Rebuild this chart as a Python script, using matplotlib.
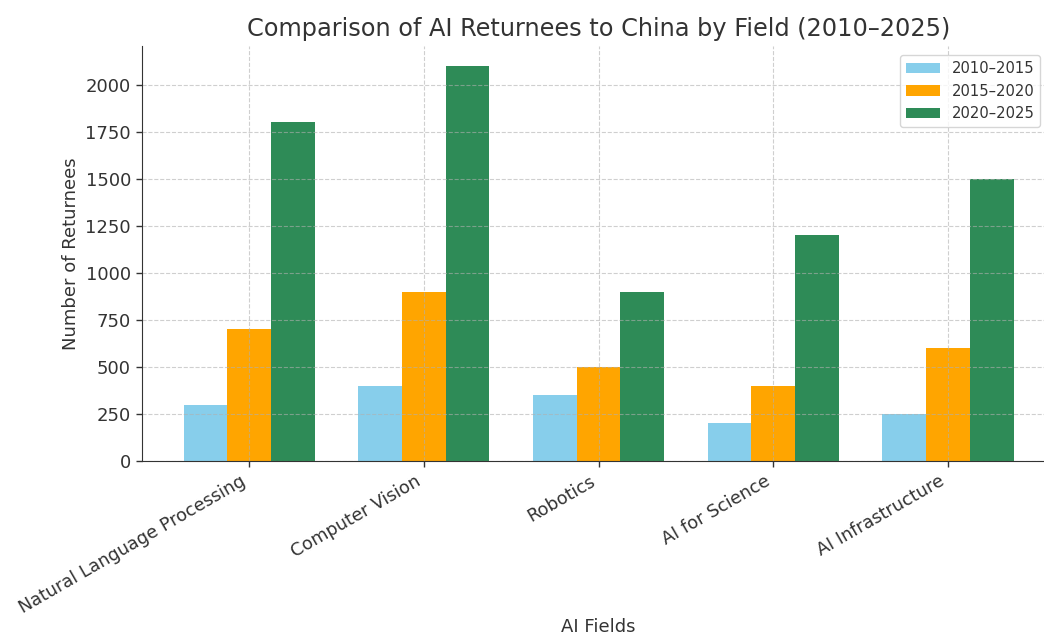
import numpy as np
import matplotlib
matplotlib.use("Agg")
import matplotlib.pyplot as plt

fields = ["Natural Language Processing", "Computer Vision", "Robotics",
          "AI for Science", "AI Infrastructure"]
periods = ["2010–2015", "2015–2020", "2020–2025"]
returnees_2010_2015 = [300, 400, 350, 200, 250]
returnees_2015_2020 = [700, 900, 500, 400, 600]
returnees_2020_2025 = [1800, 2100, 900, 1200, 1500]
colors = ["#87CEEB", "#FFA500", "#2E8B57"]

plt.rcParams["text.color"] = "#333333"
plt.rcParams["axes.labelcolor"] = "#333333"
plt.rcParams["xtick.color"] = "#333333"
plt.rcParams["ytick.color"] = "#333333"
plt.rcParams["axes.edgecolor"] = "#333333"

fig = plt.figure(figsize=(10.44, 6.35), dpi=100)
ax = fig.add_axes([142 / 1044, 1 - 461 / 635, (1055 - 142) / 1044, (461 - 46) / 635])

x = np.arange(len(fields))
width = 0.25
series = [returnees_2010_2015, returnees_2015_2020, returnees_2020_2025]
for i, (vals, lab, c) in enumerate(zip(series, periods, colors)):
    ax.bar(x + (i - 1) * width, vals, width, label=lab, color=c)

ax.set_xticks(x)
ax.set_xticklabels(fields, rotation=30, ha="right", fontsize=12.7)
ax.tick_params(axis="both", length=4.5, width=1.0)
ax.tick_params(axis="y", labelsize=13)
ax.set_xlabel("AI Fields", fontsize=13)
ax.xaxis.set_label_coords(0.5, -0.4)
ax.xaxis.label.set_va("center")
ax.set_ylabel("Number of Returnees", fontsize=13)
ax.set_title("Comparison of AI Returnees to China by Field (2010–2025)", fontsize=17.3, pad=7)
ax.grid(True, linestyle="--", color="#b0b0b0", alpha=0.6)
ax.spines["top"].set_visible(False)
ax.spines["right"].set_visible(False)
ax.legend(loc="upper right", bbox_to_anchor=(0.992, 0.995), fontsize=10.6,
          handlelength=2.3)

fig.savefig("out.png", dpi=100)
